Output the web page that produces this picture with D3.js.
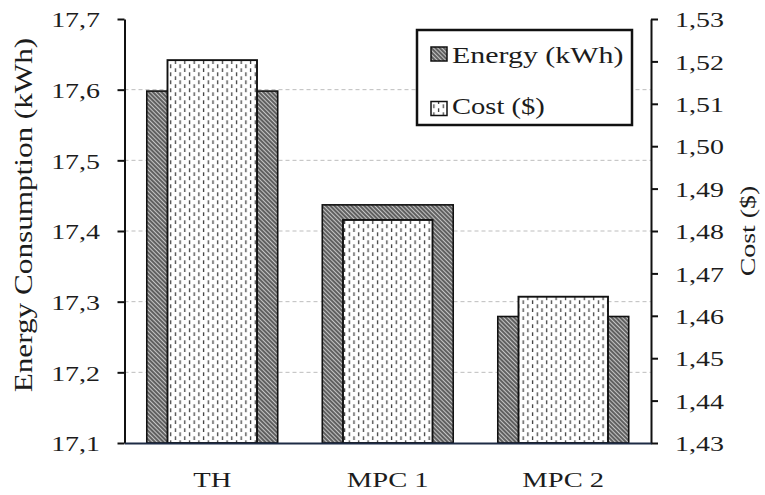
<!DOCTYPE html>
<html>
<head>
<meta charset="utf-8">
<script src="https://cdn.jsdelivr.net/npm/d3@7"></script>
<style>
  html, body { margin: 0; padding: 0; background: #fff; }
  svg { display: block; }
  text { font-family: "Liberation Serif", "DejaVu Serif", serif; fill: #1c1c1c; }
</style>
</head>
<body>
<svg id="chart" width="765" height="495"></svg>
<script>
// Energy and cost per control strategy
const categories = ["TH", "MPC 1", "MPC 2"];
const energyValues = [17.598, 17.437, 17.279];   // kWh
const costValues = [1.5203, 1.4826, 1.4645];     // $
const energyTicks = [17.1, 17.2, 17.3, 17.4, 17.5, 17.6, 17.7];
const costTicks = [1.43, 1.44, 1.45, 1.46, 1.47, 1.48, 1.49, 1.50, 1.51, 1.52, 1.53];
const gridTicks = [17.2, 17.3, 17.4, 17.5, 17.6];
const seriesNames = ["Energy (kWh)", "Cost ($)"];

const svg = d3.select("#chart");
const plotLeft = 124.5, plotRight = 651, plotTop = 19, plotBottom = 443;
const SX = 1.27; // wide lettering

const locale = d3.formatLocale({ decimal: ",", thousands: ".", grouping: [3], currency: ["", "$"] });
const fmt1 = locale.format(".1f");
const fmt2 = locale.format(".2f");

const yE = d3.scaleLinear().domain([17.1, 17.7]).range([plotBottom, plotTop]);
const yC = d3.scaleLinear().domain([1.43, 1.53]).range([plotBottom, plotTop]);
const xE = d3.scaleBand().domain(categories).range([plotLeft, plotRight]).paddingInner(0.254).paddingOuter(0.127);
const xC = d3.scaleBand().domain(categories).range([plotLeft, plotRight]).paddingInner(0.49).paddingOuter(0.245);

// fill patterns
const defs = svg.append("defs");
const hatch = defs.append("pattern")
  .attr("id", "hatch").attr("patternUnits", "userSpaceOnUse")
  .attr("width", 3).attr("height", 3)
  .attr("patternTransform", "rotate(-45)");
hatch.append("rect").attr("width", 3).attr("height", 3).attr("fill", "#c4c4c4");
hatch.append("line").attr("x1", 1).attr("y1", 0).attr("x2", 1).attr("y2", 3)
  .attr("stroke", "#2a2a2a").attr("stroke-width", 1.3);

const dots = defs.append("pattern")
  .attr("id", "dots").attr("patternUnits", "userSpaceOnUse")
  .attr("width", 9.4).attr("height", 8);
dots.append("rect").attr("width", 9.4).attr("height", 8).attr("fill", "#fff");
dots.append("line").attr("x1", 1.5).attr("y1", 0.3).attr("x2", 1.5).attr("y2", 4.2)
  .attr("stroke", "#444").attr("stroke-width", 1.3);
dots.append("line").attr("x1", 6.2).attr("y1", 4.3).attr("x2", 6.2).attr("y2", 8.2)
  .attr("stroke", "#444").attr("stroke-width", 1.3);

// dashed grid
svg.append("g").selectAll("line").data(gridTicks).join("line")
  .attr("x1", plotLeft).attr("x2", plotRight)
  .attr("y1", d => yE(d)).attr("y2", d => yE(d))
  .attr("stroke", "#bdbdbd").attr("stroke-width", 1)
  .attr("stroke-dasharray", "4,3");

// energy bars (wide, behind)
svg.append("g").selectAll("rect").data(categories).join("rect")
  .attr("x", d => xE(d))
  .attr("width", xE.bandwidth())
  .attr("y", (d, i) => yE(energyValues[i]))
  .attr("height", (d, i) => plotBottom - yE(energyValues[i]))
  .attr("fill", "url(#hatch)")
  .attr("stroke", "#111").attr("stroke-width", 1.6);

// cost bars (narrow, in front)
svg.append("g").selectAll("rect").data(categories).join("rect")
  .attr("x", d => xC(d))
  .attr("width", xC.bandwidth())
  .attr("y", (d, i) => yC(costValues[i]))
  .attr("height", (d, i) => plotBottom - yC(costValues[i]))
  .attr("fill", "url(#dots)")
  .attr("stroke", "#111").attr("stroke-width", 1.9);

// left axis
const gL = svg.append("g").attr("transform", `translate(${plotLeft},0)`)
  .call(d3.axisLeft(yE).tickValues(energyTicks).tickFormat(fmt1).tickSize(7).tickSizeOuter(0));
gL.attr("font-family", null).attr("font-size", null);
gL.selectAll("path, line").attr("stroke", "#111").attr("stroke-width", 2);
gL.selectAll("text")
  .attr("x", null).attr("dy", "0.35em").attr("fill", null)
  .attr("transform", `translate(-24.5,0) scale(${SX},1)`)
  .style("font-size", "22px");

// right axis
const gR = svg.append("g").attr("transform", `translate(${plotRight},0)`)
  .call(d3.axisRight(yC).tickValues(costTicks).tickFormat(fmt2).tickSize(7).tickSizeOuter(0));
gR.attr("font-family", null).attr("font-size", null);
gR.selectAll("path, line").attr("stroke", "#111").attr("stroke-width", 2);
gR.selectAll("text")
  .attr("x", null).attr("dy", "0.35em").attr("fill", null)
  .attr("transform", `translate(24,0) scale(${SX},1)`)
  .style("font-size", "22px");

// category axis
const gB = svg.append("g").attr("transform", `translate(0,${plotBottom})`)
  .call(d3.axisBottom(xE).tickSize(0).tickSizeOuter(0));
gB.attr("font-family", null).attr("font-size", null);
gB.select(".domain").attr("stroke", "#1d2b45").attr("stroke-width", 2);
gB.selectAll("text")
  .attr("y", null).attr("dy", null).attr("fill", null)
  .attr("transform", `translate(0,44) scale(1.3,1)`)
  .style("font-size", "22px");

// axis titles
svg.append("text")
  .attr("transform", `translate(32,215) rotate(-90) scale(1.2,1)`)
  .attr("text-anchor", "middle")
  .style("font-size", "26px")
  .text("Energy Consumption (kWh)");
svg.append("text")
  .attr("transform", `translate(755,231) rotate(-90) scale(${SX},1)`)
  .attr("text-anchor", "middle")
  .style("font-size", "22px")
  .text("Cost ($)");

// legend
const lg = svg.append("g");
lg.append("rect").attr("x", 417).attr("y", 30).attr("width", 215).attr("height", 95)
  .attr("fill", "#fff").attr("stroke", "#111").attr("stroke-width", 2.5);
const fills = ["url(#hatch)", "url(#dots)"];
const swatchMid = [54.5, 109];
const baseline = [62.5, 114];
const legendScale = [1.33, 1.27];
seriesNames.forEach((name, i) => {
  lg.append("rect").attr("x", 431).attr("y", swatchMid[i] - 7.5).attr("width", 16).attr("height", 14)
    .attr("fill", fills[i]).attr("stroke", "#111").attr("stroke-width", 1.5);
  lg.append("text")
    .attr("transform", `translate(452,${baseline[i]}) scale(${legendScale[i]},1)`)
    .style("font-size", "22.5px")
    .text(name);
});
</script>
</body>
</html>
